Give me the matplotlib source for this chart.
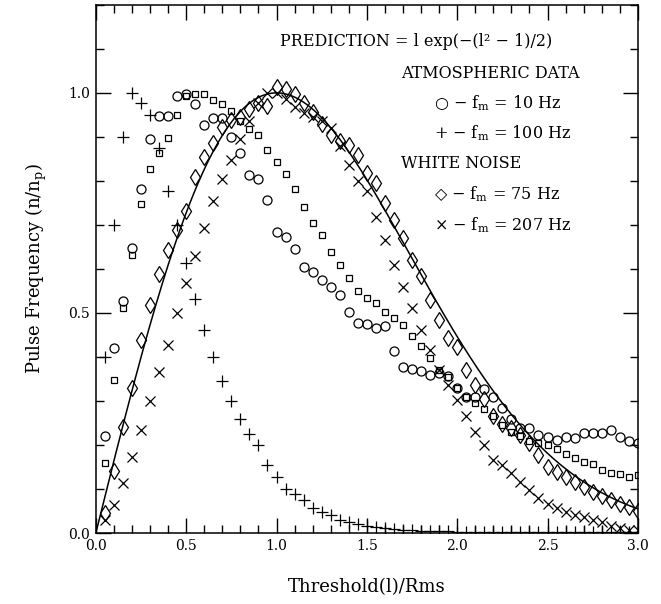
import numpy as np
import matplotlib
matplotlib.use("Agg")
import matplotlib.pyplot as plt
from matplotlib.ticker import MultipleLocator

plt.rcParams["font.family"] = ["DejaVu Serif", "DejaVu Sans"]
plt.rcParams["mathtext.fontset"] = "dejavuserif"

# sampling grid of the measurements (every 0.05 rms)
thresholds = np.round(np.arange(1, 61) * 0.05, 2)

# atmospheric data, f_m = 10 Hz (circles)
atm_10hz = [0.22, 0.42, 0.528, 0.647, 0.781, 0.895, 0.948, 0.948, 0.993, 0.997,
            0.975, 0.927, 0.942, 0.942, 0.90, 0.863, 0.814, 0.804, 0.757, 0.683,
            0.672, 0.645, 0.604, 0.594, 0.575, 0.56, 0.54, 0.503, 0.477, 0.475,
            0.465, 0.471, 0.414, 0.378, 0.372, 0.367, 0.359, 0.363, 0.357, 0.329,
            0.31, 0.308, 0.327, 0.31, 0.283, 0.26, 0.238, 0.239, 0.223, 0.219,
            0.211, 0.219, 0.217, 0.227, 0.227, 0.227, 0.234, 0.219, 0.21, 0.205]

# atmospheric data, f_m = 100 Hz (plus)
atm_100hz = [0.40, 0.70, 0.90, 1.00, 0.977, 0.95, 0.874, 0.776, 0.70, 0.613,
             0.531, 0.461, 0.40, 0.345, 0.30, 0.26, 0.225, 0.20, 0.155, 0.128,
             0.10, 0.088, 0.075, 0.056, 0.048, 0.04, 0.03, 0.026, 0.02, 0.017,
             0.014, 0.011, 0.009, 0.007, 0.006, 0.005, 0.005, 0.004, 0.004, 0.003,
             0.003, 0.003, 0.003, 0.003, 0.003, 0.003, 0.003, 0.003, 0.003, 0.003,
             0.003, 0.003, 0.003, 0.003, 0.003, 0.003, 0.003, 0.003, 0.003, 0.003]

# unlabelled set (squares)
squares = [0.16, 0.348, 0.511, 0.632, 0.748, 0.827, 0.864, 0.897, 0.95, 0.992,
           0.997, 0.997, 0.984, 0.975, 0.958, 0.935, 0.918, 0.905, 0.87, 0.844,
           0.816, 0.781, 0.74, 0.705, 0.677, 0.639, 0.61, 0.58, 0.55, 0.535,
           0.522, 0.503, 0.488, 0.473, 0.448, 0.424, 0.397, 0.37, 0.355, 0.329,
           0.31, 0.295, 0.281, 0.266, 0.245, 0.23, 0.22, 0.21, 0.204, 0.199,
           0.192, 0.18, 0.17, 0.162, 0.156, 0.143, 0.137, 0.134, 0.128, 0.132]

# white noise, f_m = 75 Hz (diamonds)
wn_75hz = [0.045, 0.14, 0.24, 0.33, 0.439, 0.518, 0.589, 0.643, 0.689, 0.732,
           0.808, 0.855, 0.886, 0.922, 0.939, 0.946, 0.963, 0.977, 0.97, 1.014,
           1.008, 0.997, 0.977, 0.956, 0.93, 0.905, 0.89, 0.882, 0.859, 0.817,
           0.795, 0.749, 0.711, 0.67, 0.62, 0.585, 0.53, 0.483, 0.442, 0.423,
           0.37, 0.336, 0.304, 0.265, 0.248, 0.238, 0.223, 0.204, 0.177, 0.151,
           0.139, 0.128, 0.117, 0.105, 0.094, 0.083, 0.075, 0.066, 0.06, 0.051]

# white noise, f_m = 207 Hz (crosses)
wn_207hz = [0.03, 0.064, 0.113, 0.173, 0.235, 0.30, 0.365, 0.427, 0.499, 0.567,
            0.63, 0.692, 0.755, 0.804, 0.848, 0.895, 0.935, 0.977, 1.0, 1.0,
            0.985, 0.969, 0.954, 0.945, 0.935, 0.92, 0.88, 0.836, 0.80, 0.776,
            0.719, 0.665, 0.61, 0.56, 0.511, 0.461, 0.416, 0.37, 0.336, 0.302,
            0.265, 0.23, 0.20, 0.167, 0.155, 0.136, 0.117, 0.098, 0.079, 0.067,
            0.058, 0.048, 0.041, 0.036, 0.03, 0.026, 0.016, 0.011, 0.008, 0.007]

legend_lines = [
    "PREDICTION = l exp(\u2212(l\u00b2 \u2212 1)/2)",
    "ATMOSPHERIC DATA",
    "\u25cb \u2212 f$_\\mathrm{m}$ = 10 Hz",
    "+ \u2212 f$_\\mathrm{m}$ = 100 Hz",
    "WHITE NOISE",
    "\u25c7 \u2212 f$_\\mathrm{m}$ = 75 Hz",
    "\u00d7 \u2212 f$_\\mathrm{m}$ = 207 Hz",
]


fig = plt.figure(figsize=(6.61, 6.04), dpi=100)
ax = fig.add_axes([0.145, 0.1175, 0.82, 0.8745])

# prediction curve
l = np.linspace(0, 3, 400)
ax.plot(l, l * np.exp(-(l ** 2 - 1) / 2), color="black", lw=1.1)

mk = dict(linestyle="none", mfc="none", mec="black", mew=0.9)
ax.plot(thresholds, atm_10hz, marker="o", ms=6.5, **mk)
ax.plot(thresholds, atm_100hz, marker="+", ms=8, **mk)
ax.plot(thresholds, squares, marker="s", ms=5, **mk)
ax.plot(thresholds, wn_75hz, marker="d", ms=8, **mk)
ax.plot(thresholds, wn_207hz, marker="x", ms=6.5, **mk)

ax.set_xlim(0, 3.0)
ax.set_ylim(0, 1.2)
ax.xaxis.set_major_locator(MultipleLocator(0.5))
ax.xaxis.set_minor_locator(MultipleLocator(0.1))
ax.yaxis.set_major_locator(MultipleLocator(0.5))
ax.yaxis.set_minor_locator(MultipleLocator(0.1))
ax.xaxis.set_major_formatter(lambda v, p: f"{v:.1f}")
ax.yaxis.set_major_formatter(lambda v, p: f"{v:.1f}")
ax.tick_params(which="both", direction="in", top=True, right=True,
               labelsize=10, width=1)
ax.tick_params(which="major", length=11, pad=4)
ax.tick_params(which="minor", length=6)
for s in ax.spines.values():
    s.set_linewidth(1.1)

ax.set_xlabel("Threshold(l)/Rms", fontsize=13, labelpad=18)
ax.set_ylabel("Pulse Frequency (n/n$_\\mathrm{p}$)", fontsize=13, labelpad=14)

# annotation block, top right
text_x = [1.02, 1.69, 1.87, 1.87, 1.69, 1.87, 1.87]
text_y = [1.116, 1.045, 0.977, 0.909, 0.84, 0.77, 0.70]
for tx, ty, s in zip(text_x, text_y, legend_lines):
    ax.text(tx, ty, s, fontsize=11.5, ha="left", va="center")

fig.savefig("out.png", dpi=100)
